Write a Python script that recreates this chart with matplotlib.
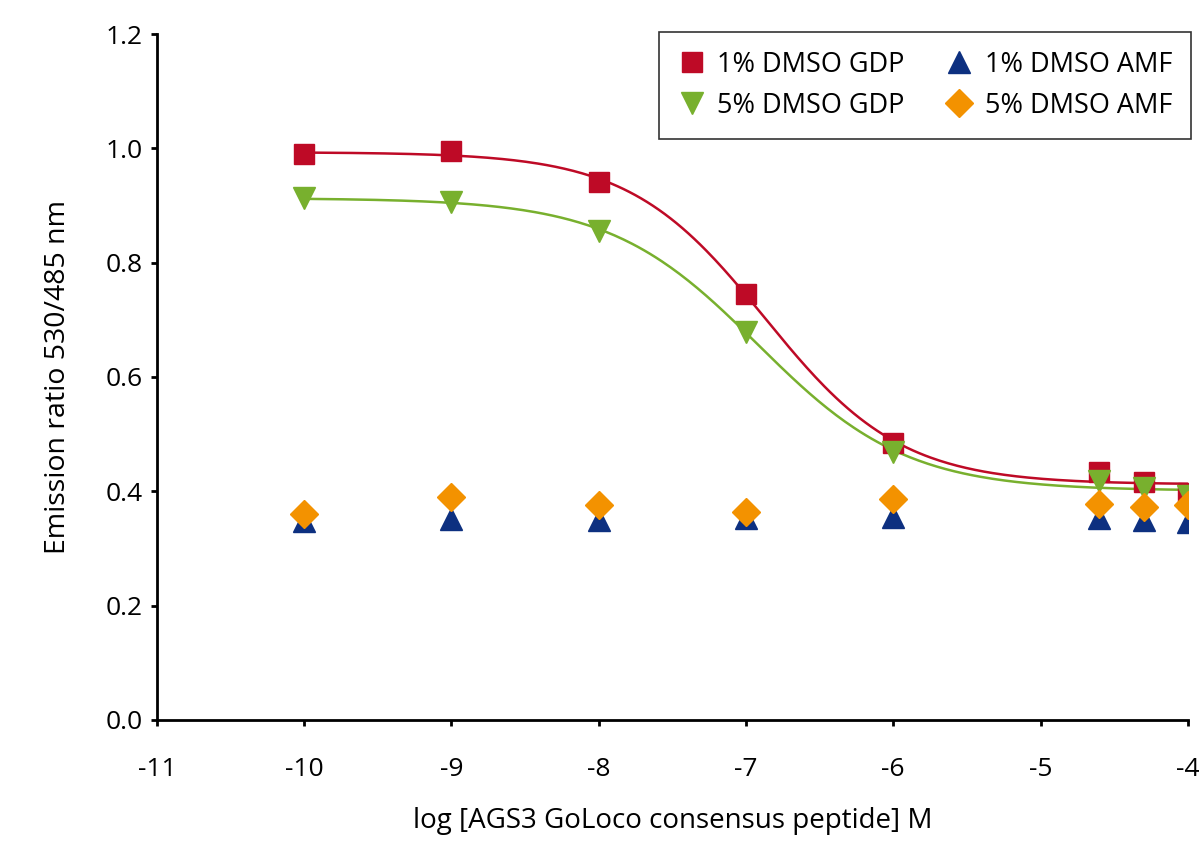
import matplotlib.pyplot as plt
import numpy as np

plt.rcParams["font.family"] = ["Open Sans", "DejaVu Sans"]

# log concentration of the peptide (M)
log_conc = [-10, -9, -8, -7, -6, -4.6, -4.3, -4]

# emission ratio 530/485 nm
dmso1_gdp = [0.990, 0.995, 0.941, 0.745, 0.485, 0.434, 0.416, 0.397]
dmso5_gdp = [0.913, 0.906, 0.855, 0.679, 0.469, 0.418, 0.405, 0.392]
dmso1_amf = [0.348, 0.351, 0.350, 0.353, 0.355, 0.353, 0.350, 0.347]
dmso5_amf = [0.360, 0.390, 0.376, 0.364, 0.386, 0.377, 0.372, 0.376]

labels = ["1% DMSO GDP", "5% DMSO GDP", "1% DMSO AMF", "5% DMSO AMF"]
colors = ["#BE0A26", "#78B02E", "#0D3080", "#F39200"]


def fit_sigmoid(x, y):
    # crude 4-parameter logistic fit: grid over EC50/hill, lstsq for top/bottom
    x = np.asarray(x, float)
    y = np.asarray(y, float)
    best = None
    for c in np.arange(-8.0, -5.5, 0.01):
        for h in np.arange(0.5, 2.0, 0.02):
            s = 1.0 / (1.0 + 10 ** ((x - c) * h))
            A = np.column_stack([np.ones_like(s), s])
            coef, *_ = np.linalg.lstsq(A, y, rcond=None)
            err = np.sum((A @ coef - y) ** 2)
            if best is None or err < best[0]:
                best = (err, c, h, coef)
    _, c, h, (bottom, span) = best
    return lambda xx: bottom + span / (1.0 + 10 ** ((xx - c) * h))


fig = plt.figure(figsize=(12, 8.61), dpi=100)
ax = fig.add_axes([0.1308, 0.1638, 0.859, 0.7967])

xs = np.linspace(min(log_conc), max(log_conc), 300)
for vals, col in [(dmso1_gdp, colors[0]), (dmso5_gdp, colors[1])]:
    f = fit_sigmoid(log_conc, vals)
    ax.plot(xs, f(xs), color=col, lw=1.8, zorder=2)

ax.plot(log_conc, dmso1_gdp, "s", color=colors[0], ms=14, ls="none",
        label=labels[0], zorder=4)
ax.plot(log_conc, dmso5_gdp, "v", color=colors[1], ms=16, ls="none",
        label=labels[1], zorder=5)
ax.plot(log_conc, dmso1_amf, "^", color=colors[2], ms=16, ls="none",
        label=labels[2], zorder=3)
ax.plot(log_conc, dmso5_amf, "D", color=colors[3], ms=14.5, ls="none",
        label=labels[3], zorder=6)

ax.set_xlim(-11, -4)
ax.set_ylim(0, 1.2)
ax.set_xticks(np.arange(-11, -3, 1))
ax.set_xticklabels([str(v) for v in range(-11, -3)])
ax.set_yticks(np.arange(0, 1.21, 0.2))
ax.set_yticklabels([f"{v:.1f}" for v in np.arange(0, 1.21, 0.2)])

for side in ["top", "right"]:
    ax.spines[side].set_visible(False)
for side in ["left", "bottom"]:
    ax.spines[side].set_linewidth(2)
ax.tick_params(direction="out", length=4.5, width=2, labelsize=19, pad=6)
ax.tick_params(axis="x", pad=22)

ax.set_xlabel("log [AGS3 GoLoco consensus peptide] M", fontsize=20, labelpad=18)
ax.set_ylabel("Emission ratio 530/485 nm", fontsize=20.5, labelpad=24)

leg = ax.legend(ncol=2, loc="upper right", bbox_to_anchor=(1.003, 1.003),
                fontsize=19.5, frameon=True, fancybox=False, edgecolor="black",
                borderpad=0.7, columnspacing=1.5, handletextpad=0.45,
                handlelength=1.0, borderaxespad=0, labelspacing=0.48)
leg.get_frame().set_linewidth(1.2)

fig.savefig("out.png", dpi=100)
